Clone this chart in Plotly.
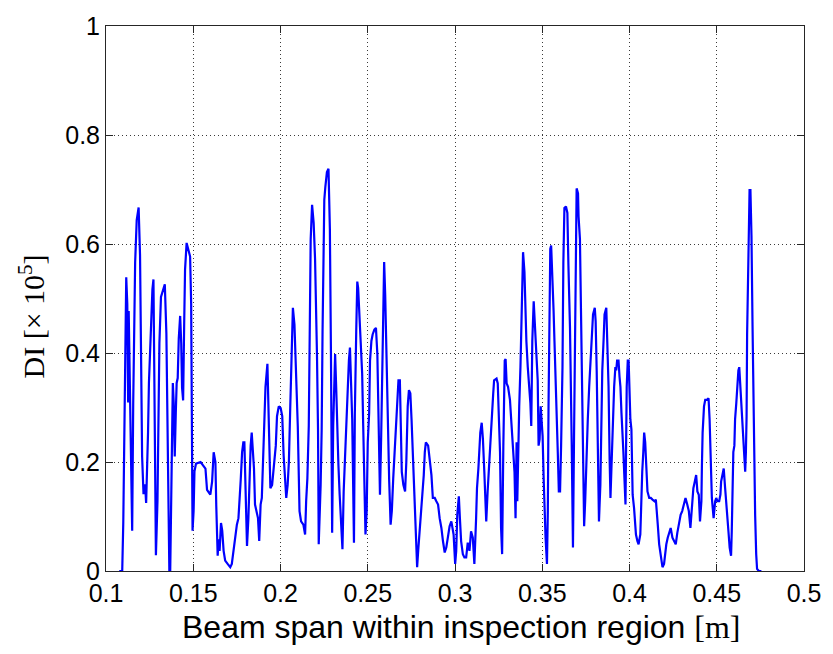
import plotly.graph_objects as go

# Damage index along the beam span (x in metres, DI in units of 1e5)
span_m = [
    0.1076, 0.1093, 0.1099, 0.1105, 0.1111, 0.1116, 0.1122, 0.1127, 0.1130, 0.1136,
    0.1144, 0.1150, 0.1156, 0.1161, 0.1167, 0.1176, 0.1187, 0.1195, 0.1201, 0.1207,
    0.1215, 0.1224, 0.1230, 0.1235, 0.1241, 0.1246, 0.1252, 0.1258, 0.1266, 0.1272,
    0.1275, 0.1281, 0.1286, 0.1295, 0.1300, 0.1306, 0.1315, 0.1326, 0.1337, 0.1346,
    0.1352, 0.1357, 0.1363, 0.1368, 0.1371, 0.1377, 0.1383, 0.1388, 0.1394, 0.1400,
    0.1405, 0.1411, 0.1417, 0.1425, 0.1431, 0.1436, 0.1442, 0.1448, 0.1453, 0.1462,
    0.1473, 0.1482, 0.1488, 0.1490, 0.1496, 0.1502, 0.1507, 0.1516,
    0.1542, 0.1570, 0.1579, 0.1598, 0.1608, 0.1617, 0.1627, 0.1632, 0.1640, 0.1645,
    0.1651, 0.1659, 0.1666, 0.1674, 0.1683, 0.1697, 0.1712, 0.1721, 0.1731, 0.1740,
    0.1750, 0.1759, 0.1765, 0.1772, 0.1780, 0.1787, 0.1793, 0.1801, 0.1808, 0.1816,
    0.1821, 0.1829, 0.1835, 0.1840, 0.1848, 0.1854, 0.1863, 0.1871, 0.1878, 0.1886,
    0.1893, 0.1901, 0.1906, 0.1914, 0.1925, 0.1933, 0.1942, 0.1952, 0.1961, 0.1973,
    0.1980, 0.1990, 0.2001, 0.2010, 0.2018, 0.2026, 0.2033, 0.2041, 0.2048, 0.2056,
    0.2065, 0.2071, 0.2080, 0.2090, 0.2099, 0.2109, 0.2118, 0.2131, 0.2141, 0.2147,
    0.2154, 0.2162, 0.2167, 0.2173, 0.2181, 0.2190, 0.2198, 0.2203, 0.2209, 0.2215,
    0.2219,
    0.2230, 0.2236, 0.2241, 0.2245, 0.2251, 0.2257, 0.2266, 0.2275, 0.2283, 0.2289,
    0.2292, 0.2296, 0.2302, 0.2307, 0.2313, 0.2319, 0.2324, 0.2332, 0.2339, 0.2347,
    0.2355, 0.2362, 0.2370, 0.2379, 0.2387, 0.2392, 0.2398, 0.2406, 0.2411, 0.2421,
    0.2426, 0.2434, 0.2440, 0.2445, 0.2453, 0.2462, 0.2468, 0.2474, 0.2481, 0.2487,
    0.2494, 0.2500, 0.2508, 0.2513, 0.2521, 0.2528, 0.2538, 0.2547, 0.2555, 0.2562,
    0.2570, 0.2577, 0.2583, 0.2589, 0.2594, 0.2600, 0.2606, 0.2612, 0.2617, 0.2623,
    0.2631, 0.2638, 0.2646, 0.2653, 0.2661, 0.2668, 0.2676, 0.2684, 0.2689, 0.2695,
    0.2704, 0.2714, 0.2721, 0.2729, 0.2736, 0.2744, 0.2751, 0.2761, 0.2770, 0.2778,
    0.2783,
    0.2789, 0.2795, 0.2802, 0.2812, 0.2821, 0.2827, 0.2833, 0.2846, 0.2856, 0.2865,
    0.2873, 0.2884, 0.2893, 0.2903, 0.2912, 0.2922, 0.2931, 0.2941, 0.2950, 0.2960,
    0.2969, 0.2979, 0.2984, 0.2992, 0.3001, 0.3007, 0.3013, 0.3022, 0.3028, 0.3035,
    0.3045, 0.3054, 0.3064, 0.3073, 0.3083, 0.3092, 0.3102, 0.3111, 0.3121, 0.3126,
    0.3134, 0.3139, 0.3145, 0.3153, 0.3160, 0.3168, 0.3173, 0.3179, 0.3187, 0.3194,
    0.3202, 0.3209, 0.3219, 0.3224, 0.3238, 0.3245, 0.3253, 0.3258, 0.3264, 0.3270,
    0.3277, 0.3285, 0.3290, 0.3296, 0.3304, 0.3315, 0.3322, 0.3330, 0.3341, 0.3347,
    0.3353,
    0.3357, 0.3362, 0.3368, 0.3375, 0.3381, 0.3385, 0.3390, 0.3398, 0.3404, 0.3409,
    0.3417, 0.3422, 0.3428, 0.3432, 0.3437, 0.3443, 0.3451, 0.3458, 0.3466, 0.3474,
    0.3479, 0.3485, 0.3491, 0.3496, 0.3502, 0.3508, 0.3514, 0.3519, 0.3527, 0.3532,
    0.3536, 0.3542, 0.3546, 0.3551, 0.3557, 0.3565, 0.3570, 0.3576, 0.3584, 0.3589,
    0.3595, 0.3602, 0.3608, 0.3616, 0.3621, 0.3627, 0.3636, 0.3644, 0.3650, 0.3659,
    0.3669, 0.3676, 0.3682, 0.3688, 0.3693, 0.3697, 0.3705, 0.3708, 0.3716, 0.3722,
    0.3727, 0.3735, 0.3740, 0.3746, 0.3754, 0.3761, 0.3769, 0.3776, 0.3782, 0.3791,
    0.3801, 0.3806, 0.3812, 0.3818, 0.3825, 0.3833, 0.3838, 0.3844, 0.3852, 0.3857,
    0.3867, 0.3874, 0.3880, 0.3886, 0.3891, 0.3897, 0.3904, 0.3912, 0.3919,
    0.3924, 0.3929, 0.3937, 0.3943, 0.3948, 0.3954, 0.3960, 0.3965, 0.3971, 0.3977,
    0.3984, 0.3990, 0.3995, 0.3999, 0.4005, 0.4011, 0.4018, 0.4026, 0.4031, 0.4037,
    0.4045, 0.4052, 0.4062, 0.4067, 0.4073, 0.4079, 0.4084, 0.4090, 0.4098, 0.4103,
    0.4113, 0.4122, 0.4132, 0.4143, 0.4151, 0.4156, 0.4162, 0.4170, 0.4179, 0.4189,
    0.4198, 0.4204, 0.4211, 0.4219, 0.4227, 0.4236, 0.4246, 0.4255, 0.4265, 0.4274,
    0.4283, 0.4293, 0.4302, 0.4312, 0.4321, 0.4331, 0.4340, 0.4349, 0.4359, 0.4366,
    0.4374, 0.4382, 0.4389, 0.4397, 0.4404, 0.4412, 0.4415, 0.4419, 0.4427, 0.4434,
    0.4444, 0.4453, 0.4459, 0.4465, 0.4472, 0.4482,
    0.4485, 0.4491, 0.4497, 0.4504, 0.4514, 0.4521, 0.4525, 0.4533, 0.4540, 0.4548,
    0.4555, 0.4561, 0.4567, 0.4574, 0.4582, 0.4586, 0.4590, 0.4595, 0.4601, 0.4605,
    0.4612, 0.4618, 0.4624, 0.4629, 0.4635, 0.4642, 0.4648, 0.4652, 0.4657, 0.4663,
    0.4667, 0.4671, 0.4674, 0.4678, 0.4682, 0.4688, 0.4693, 0.4699, 0.4705, 0.4710,
    0.4714, 0.4720, 0.4726, 0.4731, 0.4741, 0.4756,
]

damage_index = [
    0.000, 0.000, 0.089, 0.269, 0.450, 0.539, 0.490, 0.309, 0.477, 0.363,
    0.152, 0.074, 0.309, 0.467, 0.566, 0.644, 0.667, 0.580, 0.340, 0.210,
    0.141, 0.159, 0.125, 0.170, 0.255, 0.345, 0.405, 0.477, 0.517, 0.535,
    0.448, 0.278, 0.029, 0.128, 0.260, 0.418, 0.503, 0.517, 0.526, 0.436,
    0.260, 0.056, 0.000, 0.000, 0.065, 0.273, 0.345, 0.309, 0.210, 0.291,
    0.345, 0.354, 0.427, 0.468, 0.418, 0.336, 0.313, 0.454, 0.553, 0.602,
    0.590, 0.577, 0.490, 0.309, 0.074, 0.110, 0.183, 0.197,
    0.200, 0.188, 0.149, 0.140, 0.164, 0.218, 0.200, 0.119, 0.028, 0.058,
    0.037, 0.088, 0.074, 0.037, 0.019, 0.013, 0.007, 0.013, 0.040, 0.061,
    0.085, 0.097, 0.125, 0.167, 0.218, 0.236, 0.236, 0.140, 0.046, 0.097,
    0.170, 0.230, 0.254, 0.227, 0.188, 0.122, 0.110, 0.097, 0.055, 0.122,
    0.134, 0.218, 0.263, 0.338, 0.380, 0.266, 0.152, 0.158, 0.188, 0.230,
    0.284, 0.302, 0.299, 0.284, 0.212, 0.158, 0.134, 0.158, 0.200, 0.302,
    0.422, 0.483, 0.452, 0.350, 0.266, 0.110, 0.091, 0.085, 0.067, 0.128,
    0.170, 0.266, 0.434, 0.609, 0.672, 0.639, 0.573, 0.507, 0.398, 0.260,
    0.049,
    0.158, 0.260, 0.440, 0.591, 0.681, 0.705, 0.732, 0.738, 0.627, 0.404,
    0.182, 0.070, 0.266, 0.338, 0.398, 0.338, 0.266, 0.194, 0.140, 0.097,
    0.040, 0.146, 0.218, 0.308, 0.344, 0.386, 0.410, 0.338, 0.278, 0.052,
    0.290, 0.440, 0.531, 0.519, 0.452, 0.386, 0.362, 0.266, 0.134, 0.067,
    0.110, 0.236, 0.290, 0.386, 0.422, 0.434, 0.443, 0.446, 0.398, 0.302,
    0.140, 0.248, 0.368, 0.489, 0.567, 0.507, 0.410, 0.314, 0.230, 0.164,
    0.085, 0.110, 0.170, 0.218, 0.266, 0.302, 0.350, 0.350, 0.272, 0.182,
    0.158, 0.146, 0.200, 0.302, 0.332, 0.326, 0.278, 0.200, 0.122, 0.049,
    0.007,
    0.037, 0.061, 0.097, 0.134, 0.176, 0.218, 0.236, 0.230, 0.206, 0.176,
    0.134, 0.134, 0.128, 0.122, 0.097, 0.079, 0.055, 0.034, 0.043, 0.067,
    0.082, 0.091, 0.079, 0.067, 0.013, 0.037, 0.103, 0.137, 0.097, 0.055,
    0.031, 0.025, 0.025, 0.052, 0.037, 0.073, 0.061, 0.013, 0.097, 0.152,
    0.188, 0.230, 0.254, 0.272, 0.242, 0.182, 0.122, 0.091, 0.146, 0.188,
    0.242, 0.290, 0.326, 0.350, 0.353, 0.344, 0.278, 0.218, 0.079, 0.031,
    0.230, 0.386, 0.389, 0.344, 0.338, 0.314, 0.278, 0.236, 0.182, 0.097,
    0.236,
    0.128, 0.218, 0.302, 0.374, 0.458, 0.537, 0.585, 0.549, 0.471, 0.422,
    0.374, 0.350, 0.338, 0.308, 0.266, 0.422, 0.495, 0.446, 0.398, 0.350,
    0.230, 0.242, 0.302, 0.284, 0.248, 0.170, 0.085, 0.061, 0.013, 0.110,
    0.302, 0.495, 0.591, 0.597, 0.525, 0.477, 0.422, 0.368, 0.290, 0.218,
    0.146, 0.146, 0.230, 0.374, 0.567, 0.666, 0.669, 0.657, 0.561, 0.446,
    0.230, 0.043, 0.242, 0.422, 0.591, 0.702, 0.693, 0.651, 0.609, 0.489,
    0.374, 0.248, 0.082, 0.128, 0.218, 0.278, 0.338, 0.374, 0.416, 0.471,
    0.483, 0.458, 0.368, 0.254, 0.091, 0.158, 0.248, 0.368, 0.428, 0.471,
    0.483, 0.404, 0.338, 0.206, 0.134, 0.194, 0.278, 0.338, 0.374,
    0.368, 0.386, 0.386, 0.356, 0.338, 0.290, 0.230, 0.218, 0.170, 0.122,
    0.338, 0.386, 0.386, 0.338, 0.278, 0.260, 0.140, 0.116, 0.097, 0.067,
    0.055, 0.049, 0.067, 0.146, 0.182, 0.218, 0.254, 0.236, 0.188, 0.146,
    0.134, 0.134, 0.131, 0.128, 0.131, 0.116, 0.085, 0.049, 0.028, 0.007,
    0.013, 0.031, 0.049, 0.061, 0.070, 0.079, 0.061, 0.055, 0.049, 0.070,
    0.085, 0.103, 0.110, 0.122, 0.134, 0.122, 0.110, 0.079, 0.134, 0.152,
    0.164, 0.176, 0.146, 0.140, 0.091, 0.128, 0.194, 0.254, 0.302, 0.314,
    0.314, 0.317, 0.278, 0.224, 0.134, 0.097,
    0.116, 0.128, 0.134, 0.128, 0.128, 0.140, 0.164, 0.182, 0.188, 0.152,
    0.128, 0.103, 0.073, 0.043, 0.028, 0.073, 0.164, 0.218, 0.230, 0.278,
    0.308, 0.350, 0.368, 0.374, 0.338, 0.296, 0.260, 0.230, 0.200, 0.182,
    0.218, 0.284, 0.434, 0.531, 0.609, 0.699, 0.699, 0.615, 0.452, 0.290,
    0.176, 0.103, 0.031, 0.004, 0.000, 0.000,
]

x_ticks = [0.1, 0.15, 0.2, 0.25, 0.3, 0.35, 0.4, 0.45, 0.5]
x_tick_text = ["0.1", "0.15", "0.2", "0.25", "0.3", "0.35", "0.4", "0.45", "0.5"]
y_ticks = [0, 0.2, 0.4, 0.6, 0.8, 1]
y_tick_text = ["0", "0.2", "0.4", "0.6", "0.8", "1"]

fig = go.Figure()
fig.add_trace(go.Scatter(
    x=span_m, y=damage_index, mode="lines",
    line=dict(color="#0000FF", width=2.2),
    showlegend=False, hoverinfo="x+y",
))

axis_common = dict(
    showline=True, linecolor="#262626", linewidth=1, mirror="ticks",
    ticks="inside", ticklen=7, tickcolor="#262626", tickwidth=1,
    showgrid=True, gridcolor="#3a3a3a", gridwidth=1, griddash="1px,3px",
    zeroline=False,
    tickfont=dict(family="Liberation Sans, Arial, sans-serif", size=25, color="#000000"),
)

fig.update_xaxes(range=[0.1, 0.5], tickvals=x_ticks, ticktext=x_tick_text, **axis_common)
fig.update_yaxes(range=[0, 1], tickvals=y_ticks, ticktext=y_tick_text, **axis_common)

# Axis titles: sans-serif label text with a serif unit, as in the original figure style
fig.add_annotation(
    x=0.509, y=-0.103, xref="paper", yref="paper", xanchor="center", yanchor="middle",
    text=('<span style="font-family:Liberation Sans">Beam span within inspection region </span>'
          '<span style="font-family:Liberation Serif">[m]</span>'),
    showarrow=False, font=dict(family="Liberation Sans, Arial, sans-serif", size=32, color="#000000"),
)
fig.add_annotation(
    x=-0.106, y=0.467, xref="paper", yref="paper", xanchor="center", yanchor="middle",
    text="DI [× 10<sup>5</sup>]", textangle=-90, showarrow=False,
    font=dict(family="Liberation Serif, Times New Roman, serif", size=30, color="#000000"),
)

fig.update_layout(
    width=833, height=654,
    margin=dict(l=106, r=23, t=17, b=83),
    paper_bgcolor="#FFFFFF", plot_bgcolor="#FFFFFF",
)

fig.write_html("out.html")
